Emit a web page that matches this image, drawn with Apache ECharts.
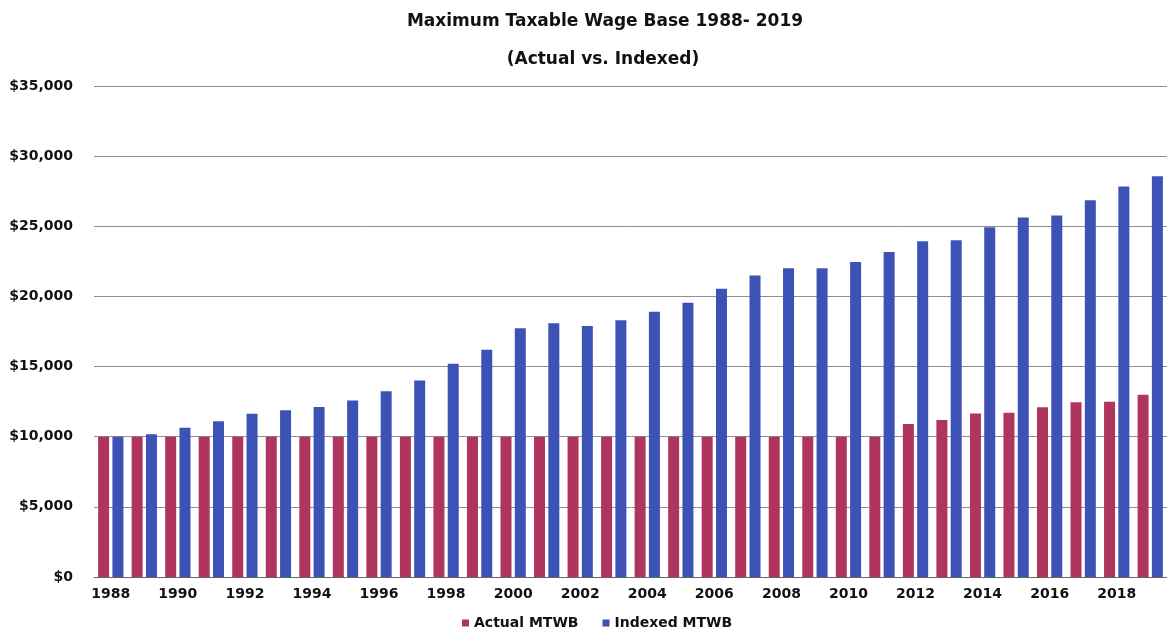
<!DOCTYPE html>
<html>
<head>
<meta charset="utf-8">
<script src="https://cdn.jsdelivr.net/npm/echarts@6/dist/echarts.min.js"></script>
<style>
  html, body { margin: 0; padding: 0; background: #ffffff; }
  #chart { width: 1167px; height: 629px; }
</style>
</head>
<body>
<div id="chart"></div>
<script>
// Years on the category axis
const years = [
  '1988','1989','1990','1991','1992','1993','1994','1995','1996','1997',
  '1998','1999','2000','2001','2002','2003','2004','2005','2006','2007',
  '2008','2009','2010','2011','2012','2013','2014','2015','2016','2017',
  '2018','2019'
];

// Actual maximum taxable wage base (dollars)
const actualMTWB = [
  10000, 10000, 10000, 10000, 10000, 10000, 10000, 10000, 10000, 10000,
  10000, 10000, 10000, 10000, 10000, 10000, 10000, 10000, 10000, 10000,
  10000, 10000, 10000, 10000, 10900, 11200, 11650, 11700, 12100, 12450,
  12500, 13000
];

// Wage base indexed to wage growth (dollars)
const indexedMTWB = [
  10000, 10170, 10640, 11110, 11630, 11880, 12120, 12580, 13240, 14000,
  15200, 16200, 17730, 18090, 17900, 18300, 18900, 19550, 20550, 21500,
  22000, 22000, 22460, 23170, 23930, 24000, 24940, 25630, 25770, 26860,
  27830, 28560
];

const seriesNames = ['Actual MTWB', 'Indexed MTWB'];
const titleLines = ['Maximum Taxable Wage Base 1988- 2019', '(Actual vs. Indexed)'];

const FONT = 'DejaVu Sans';

function dollars(v) {
  return '$' + Number(v).toLocaleString('en-US');
}

const chart = echarts.init(document.getElementById('chart'), null, { renderer: 'canvas' });

chart.setOption({
  animation: false,
  backgroundColor: '#ffffff',
  title: [
    {
      text: titleLines[0],
      left: 600, top: 8, textAlign: 'center',
      textStyle: { fontFamily: FONT, fontWeight: 'bold', fontSize: 17, color: '#111' }
    },
    {
      text: titleLines[1],
      left: 598, top: 46, textAlign: 'center',
      textStyle: { fontFamily: FONT, fontWeight: 'bold', fontSize: 17, color: '#111' }
    }
  ],
  legend: {
    data: seriesNames,
    left: 462, top: 616,
    padding: 0,
    icon: 'rect',
    itemWidth: 7, itemHeight: 7,
    itemGap: 24,
    textStyle: { fontFamily: FONT, fontWeight: 'bold', fontSize: 14, color: '#111', padding: [0, 0, 0, 0] }
  },
  grid: { left: 94, right: -9, top: 86, bottom: 52 },
  xAxis: {
    type: 'category',
    data: years,
    axisTick: { show: false },
    axisLine: { show: true, lineStyle: { color: '#666', width: 1 } },
    axisLabel: {
      interval: 1,
      margin: 10,
      fontFamily: FONT, fontWeight: 'bold', fontSize: 14, color: '#111'
    }
  },
  yAxis: {
    type: 'value',
    min: 0, max: 35000, interval: 5000,
    axisLine: { show: false },
    axisTick: { show: false },
    axisLabel: {
      margin: 21,
      formatter: dollars,
      fontFamily: FONT, fontWeight: 'bold', fontSize: 14, color: '#111'
    },
    splitLine: { show: true, lineStyle: { color: '#8f8f8f', width: 1 } }
  },
  series: [
    {
      name: seriesNames[0],
      type: 'bar',
      data: actualMTWB,
      barWidth: 11,
      barGap: '30%',
      itemStyle: { color: '#b0355e' }
    },
    {
      name: seriesNames[1],
      type: 'bar',
      data: indexedMTWB,
      barWidth: 11,
      barGap: '30%',
      itemStyle: { color: '#3d52b5' }
    }
  ]
});
</script>
</body>
</html>
